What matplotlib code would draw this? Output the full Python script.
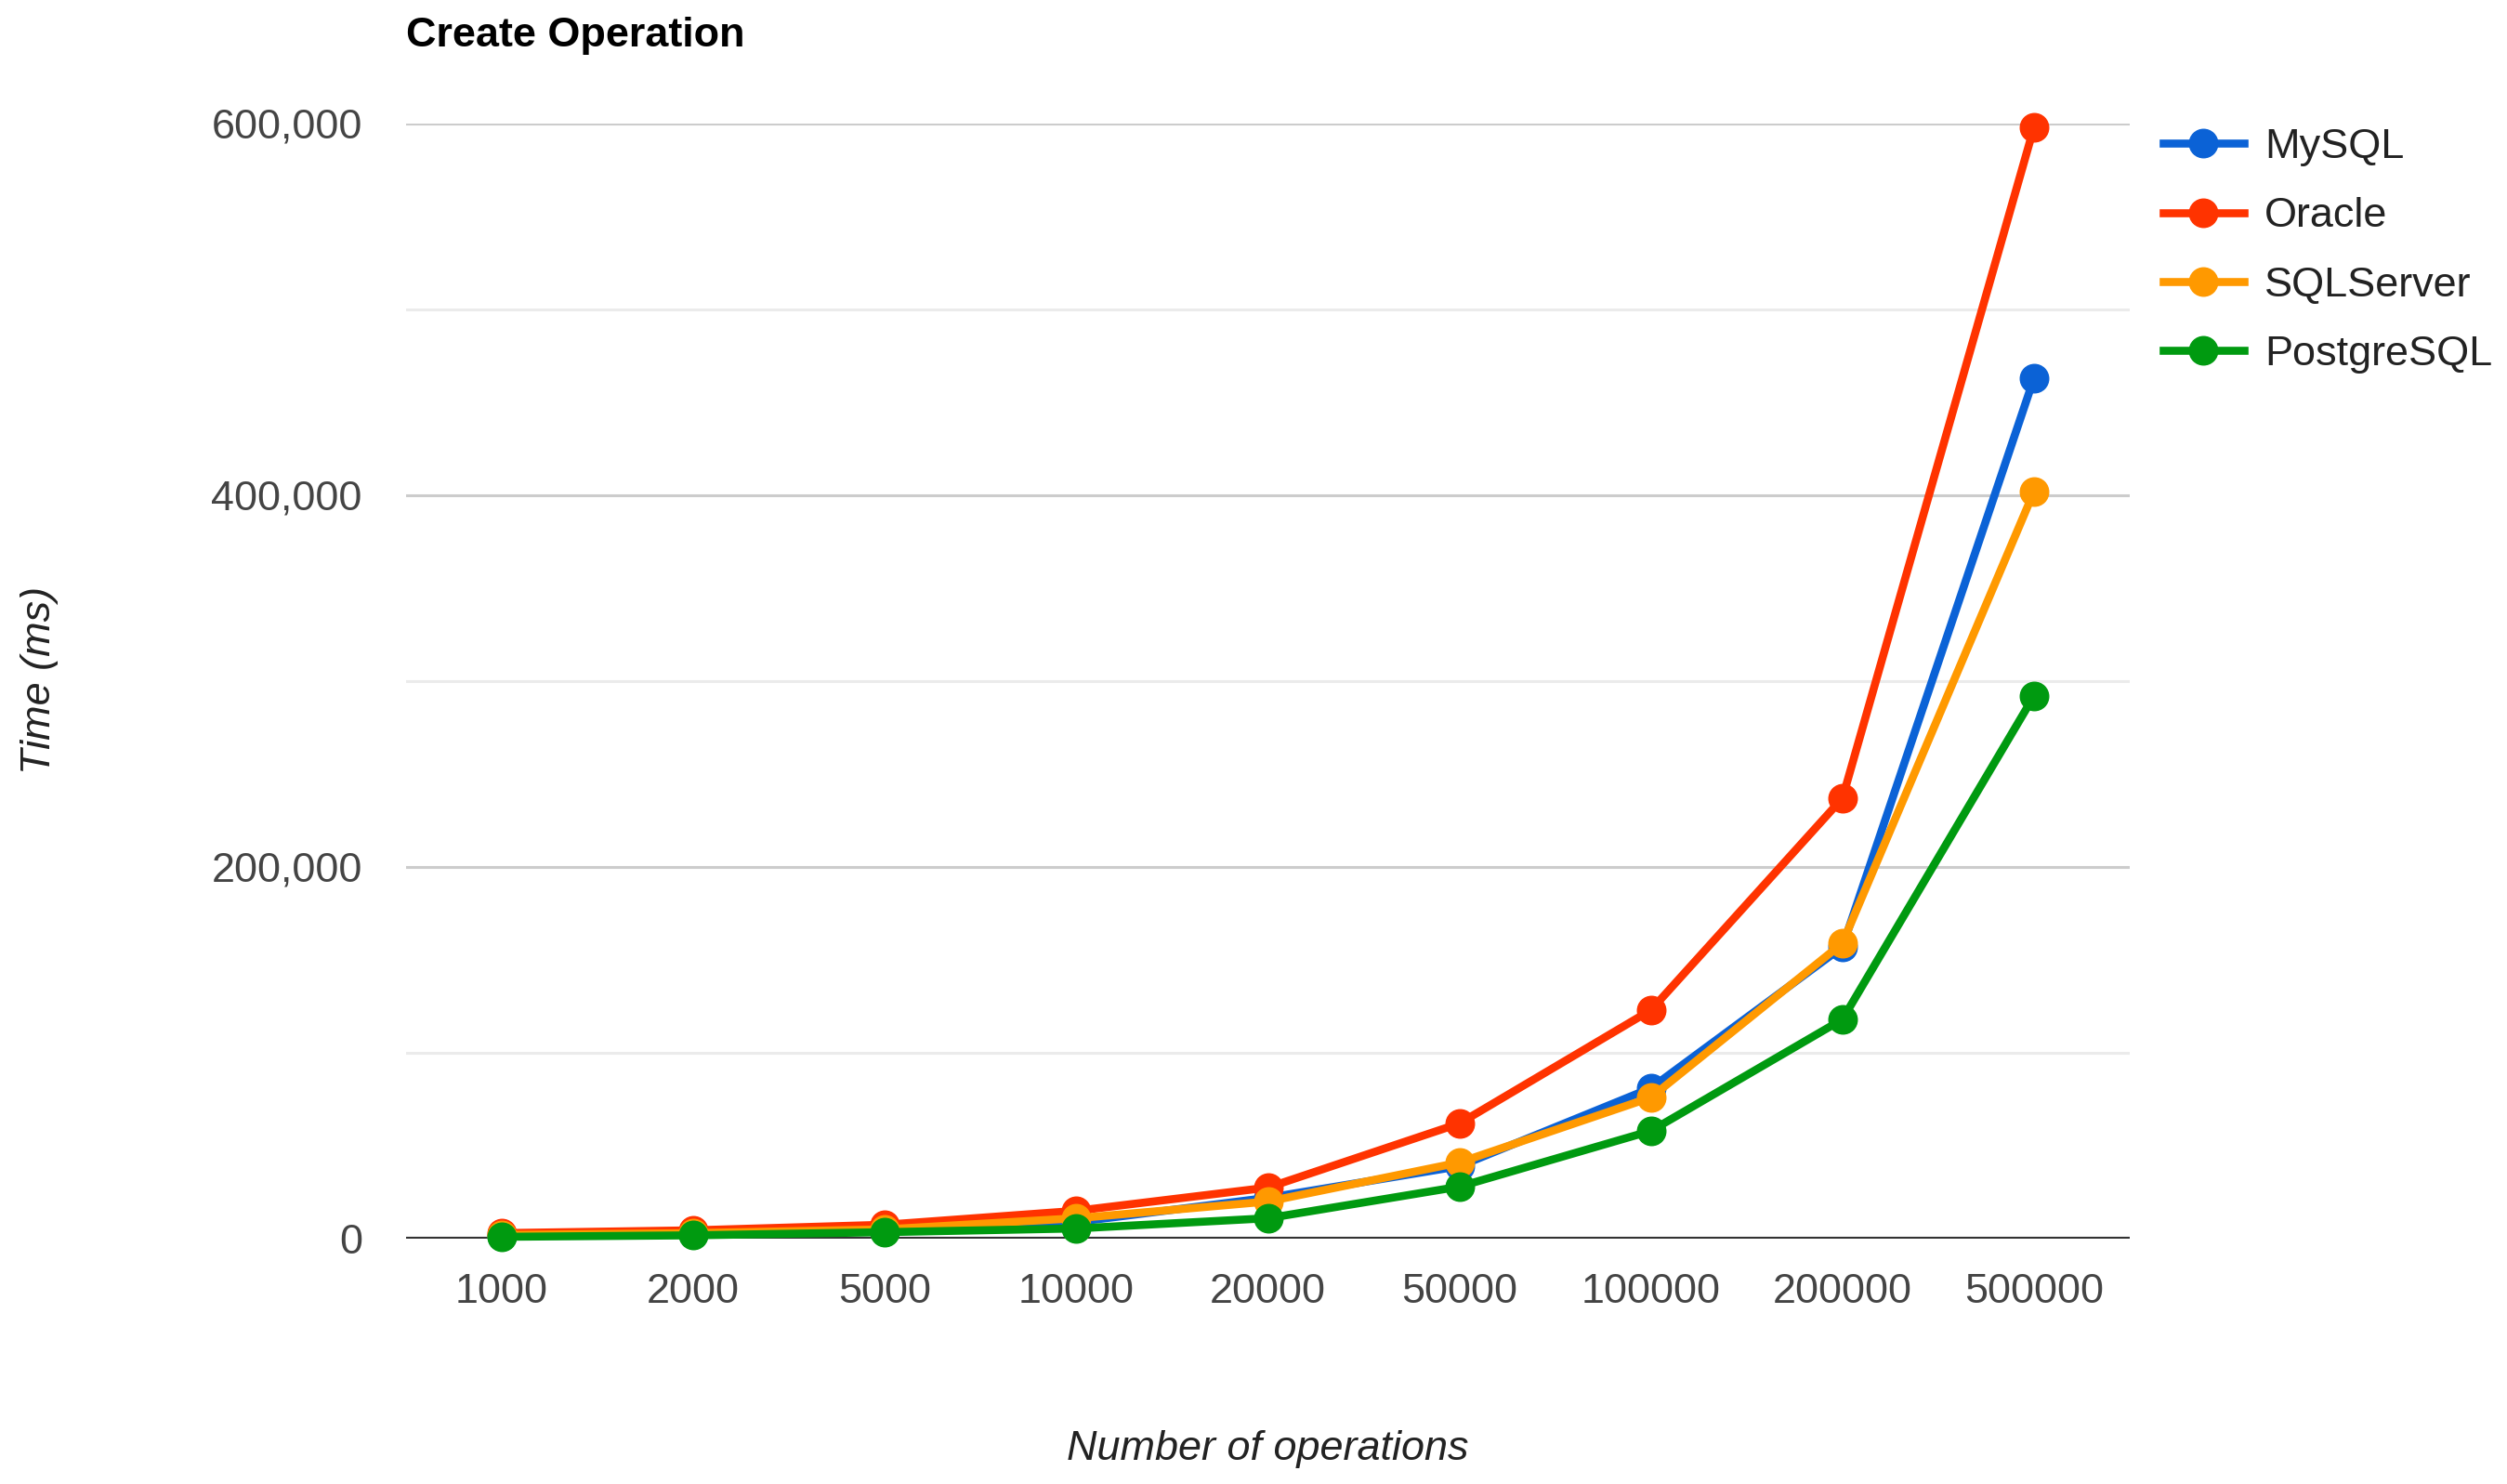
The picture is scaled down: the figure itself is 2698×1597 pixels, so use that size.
import numpy as np
import matplotlib
matplotlib.use("Agg")
import matplotlib.pyplot as plt
from matplotlib.ticker import FuncFormatter

plt.rcParams['font.family'] = ['Liberation Sans', 'DejaVu Sans']

# data
operations = ['1000', '2000', '5000', '10000', '20000', '50000', '100000', '200000', '500000']
mysql = [1500, 2500, 4500, 9000, 22000, 39000, 81000, 157000, 463000]
oracle = [3000, 4500, 7500, 15000, 27500, 62000, 123000, 237000, 598000]
sqlserver = [2000, 3000, 5000, 11000, 20000, 41000, 76000, 159000, 402000]
postgres = [1000, 1800, 3500, 5500, 11000, 28000, 58000, 118000, 292000]

series = [('MySQL', mysql, '#0b62d6'),
          ('Oracle', oracle, '#ff3300'),
          ('SQLServer', sqlserver, '#ff9900'),
          ('PostgreSQL', postgres, '#009a10')]

W, H = 2698, 1597
fig = plt.figure(figsize=(W / 100, H / 100), dpi=100)
ax = fig.add_axes([437 / W, 1 - 1333 / H, (2292 - 437) / W, (1333 - 133) / H])

fs = 32.4
x = np.arange(len(operations))

# gridlines
for v in [100000, 300000, 500000]:
    ax.axhline(v, color='#ebebeb', lw=2.2, zorder=0)
for v in [200000, 400000, 600000]:
    ax.axhline(v, color='#cccccc', lw=2.2, zorder=0)
ax.axhline(0, color='#333333', lw=3, zorder=1)

for name, vals, col in series:
    ax.plot(x, vals, color=col, lw=6.2, marker='o', markersize=22,
            label=name, clip_on=False, zorder=3)

ax.set_xlim(-0.5, len(operations) - 0.5)
ax.set_ylim(0, 600000)
ax.set_xticks(x)
ax.set_xticklabels(operations)
ax.set_yticks([0, 200000, 400000, 600000])
ax.yaxis.set_major_formatter(FuncFormatter(lambda v, p: f'{int(v):,}'))
ax.tick_params(axis='both', length=0, labelsize=fs, labelcolor='#444444')
ax.tick_params(axis='y', pad=34)
ax.tick_params(axis='x', pad=27)
for s in ax.spines.values():
    s.set_visible(False)

fig.text(437 / W, 1 - 50 / H, 'Create Operation', fontsize=fs, fontweight='bold',
         color='black', ha='left', va='baseline')
fig.text(1364 / W, 1 - 1559 / H, 'Number of operations', fontsize=fs, style='italic',
         color='#222222', ha='center', va='center')
fig.text(43 / W, 1 - 732 / H, 'Time (ms)', fontsize=fs, style='italic',
         color='#222222', ha='center', va='center', rotation=90)

leg = fig.legend(loc='upper left', bbox_to_anchor=(2328 / W, 1 - 138 / H),
                 frameon=False, fontsize=fs, handlelength=1.93, handletextpad=0.5,
                 labelspacing=0.74, borderpad=0, borderaxespad=0)
for t in leg.get_texts():
    t.set_color('#222222')

fig.savefig('out.png', dpi=100)
